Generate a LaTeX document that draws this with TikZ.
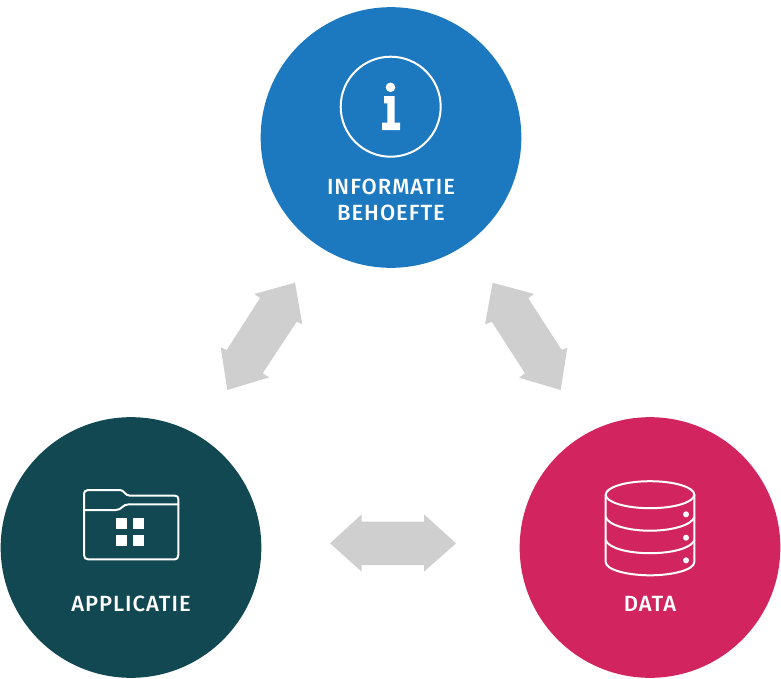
\documentclass[tikz,border=0pt]{standalone}
\usepackage{fontspec}
\setmainfont{Fira Sans Medium}[LetterSpace=4.5]
\definecolor{cblue}{HTML}{1C79C0}
\definecolor{cteal}{HTML}{114852}
\definecolor{cpink}{HTML}{D2255F}
\definecolor{cgrey}{HTML}{CFCFCF}
\tikzset{
  bigdisc/.style={circle,draw=none,inner sep=0pt,minimum size=195.5pt},
  lbl/.style={text=white,font=\fontsize{16.5pt}{19.8pt}\selectfont,inner sep=0pt,align=center,anchor=center},
  biarrow/.style={fill=cgrey,draw=none},
  iconline/.style={draw=white,line width=1.5pt,line join=round,line cap=round},
  iconfill/.style={fill=white,draw=none}
}
\begin{document}
\begin{tikzpicture}[x=0.75pt,y=-0.75pt]
\useasboundingbox (0,0) rectangle (781,678);
\node[bigdisc,fill=cblue] (info) at (391,137.5) {};
\node[bigdisc,fill=cteal] (app) at (131,547.5) {};
\node[bigdisc,fill=cpink] (data) at (650,547.5) {};
\node[lbl] (infotext) at (391,200) {INFORMATIE\\BEHOEFTE};
\node[lbl] (apptext) at (131,604) {APPLICATIE};
\node[lbl] (datatext) at (650,604) {DATA};
% arrows
\fill[biarrow] (295,282.7)--(254.3,294)--(260,298)--(226.7,350)--(220.7,347.3)--(227.3,390)--(269.3,377.3)--(262.7,373.3)--(296.7,321.7)--(302.3,324.3)--cycle;
\fill[biarrow] (492.7,282.7)--(534,294)--(528.3,298.3)--(561.7,350)--(567.3,347.7)--(560.7,390)--(519,377.7)--(525,373.3)--(491.7,321.7)--(485,324.3)--cycle;
\fill[biarrow] (330,543.3)--(361.7,514.3)--(361.7,521.7)--(424,521.7)--(424,514.3)--(456,543.3)--(424,571.7)--(424,565)--(361.7,565)--(361.7,571.7)--cycle;
% info icon
\draw[iconline] (390.7,106.7) circle (50);
\fill[iconfill] (390.5,87.3) circle (4.8);
\fill[iconfill] (384,96)--(394.7,96)--(394.7,122.7)--(400,122.7)--(400,130)--(382,130)--(382,122.7)--(387.3,122.7)--(387.3,103.3)--(384,103.3)--cycle;
% folder icon
\draw[iconline] (84,495) .. controls (84,491.5) and (85.5,490) .. (88,490) -- (120,490) .. controls (124,490) and (125,495.7) .. (130,495.7) -- (175,495.7) .. controls (177.3,495.7) and (178.3,497) .. (178.3,499) -- (178.3,555) .. controls (178.3,558) and (177,559.3) .. (175,559.3) -- (88,559.3) .. controls (85.5,559.3) and (84,558) .. (84,555) -- cycle;
\draw[iconline] (84,510) -- (116,510) .. controls (122,510) and (122,504.3) .. (129,504.3) -- (178.3,504.3);
\fill[iconfill] (116,518.3) rectangle (127.3,529.3);
\fill[iconfill] (132.7,518.3) rectangle (144.3,529.3);
\fill[iconfill] (116,535) rectangle (127.3,546);
\fill[iconfill] (132.7,535) rectangle (144.3,546);
% database icon
\draw[iconline] (650,494.7) ellipse [x radius=44.3,y radius=13.5];
\draw[iconline] (605.7,494.7) -- (605.7,562) .. controls (605.7,570) and (628,575.3) .. (650,575.3) .. controls (672,575.3) and (694.3,570) .. (694.3,562) -- (694.3,494.7);
\draw[iconline] (605.7,517) .. controls (608,525) and (628,530.7) .. (650,530.7) .. controls (672,530.7) and (692,525) .. (694.3,517);
\draw[iconline] (605.7,540) .. controls (608,548) and (628,553.2) .. (650,553.2) .. controls (672,553.2) and (692,548) .. (694.3,540);
\fill[iconfill] (686,514.3) circle (3);
\fill[iconfill] (686,537.7) circle (3);
\fill[iconfill] (686,560.3) circle (3);
\end{tikzpicture}
\end{document}
